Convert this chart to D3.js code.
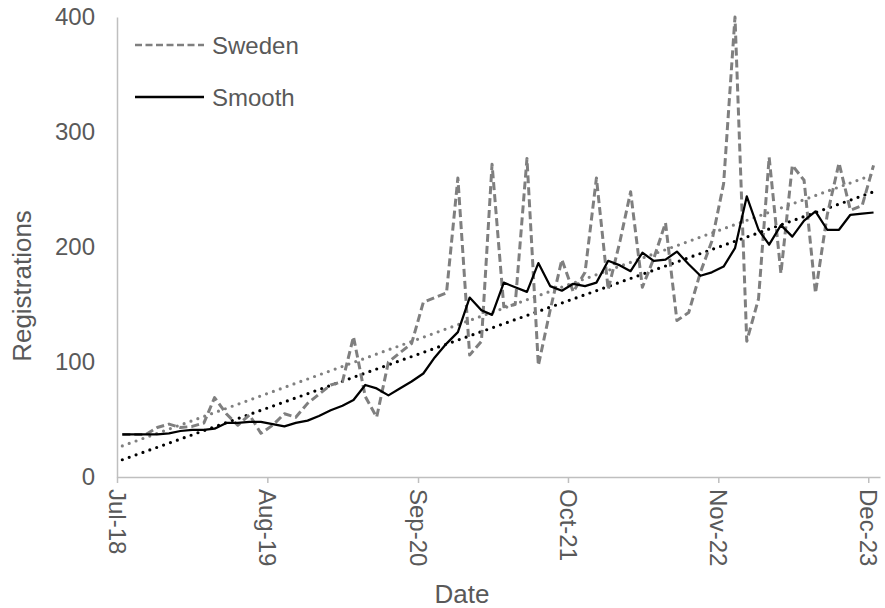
<!DOCTYPE html>
<html lang="en">
<head>
<meta charset="UTF-8">
<title>Registrations - Sweden</title>
<style>
    body { margin: 0; background: #fff; }
    svg text { font-family: "Liberation Sans", Arial, sans-serif; fill: #595959; }
</style>
<script src="https://d3js.org/d3.v7.min.js"></script>
</head>
<body>
<script>
// monthly registrations, Jul-18 .. Dec-23
const firstMonth = new Date(2018, 6, 1);
const sweden = [37, 37, 37, 43, 46, 43, 44, 47, 69, 55, 45, 54,
    38, 45, 55, 52, 64, 72, 80, 83, 122, 70, 52, 100,
    108, 116, 152, 156, 160, 260, 106, 118, 272, 148, 150, 277,
    97, 145, 189, 161, 178, 260, 163, 205, 248, 165, 190, 221,
    136, 143, 178, 205, 255, 400, 118, 155, 278, 177, 271, 258,
    160, 228, 273, 232, 236, 271];
const smooth = [37, 37, 37, 37, 38, 40, 41, 41, 42, 47, 47, 48,
    48, 46, 44, 47, 49, 53, 58, 62, 67, 80, 77, 71,
    77, 83, 90, 104, 116, 126, 156, 145, 141, 169, 165, 161,
    186, 166, 162, 168, 166, 169, 188, 184, 179, 195, 188, 189,
    196, 185, 175, 178, 183, 199, 244, 215, 202, 219, 209, 223,
    231, 215, 215, 228, 229, 230];
// linear trend lines (start, end)
const swedenTrend = [27, 263];
const smoothTrend = [15, 248];
const tickLabels = ["Jul-18", "Aug-19", "Sep-20", "Oct-21", "Nov-22", "Dec-23"];
const yTicks = [0, 100, 200, 300, 400];

const width = 885, height = 608;
const m = { left: 117, right: 880, top: 17, bottom: 477 };

const months = sweden.map((d, i) => d3.timeMonth.offset(firstMonth, i));
const mid = d => d3.timeDay.offset(d, 14);

const x = d3.scaleTime()
    .domain([firstMonth, d3.timeMonth.offset(firstMonth, 66)])
    .range([m.left, m.right]);
const y = d3.scaleLinear().domain([0, 400]).range([m.bottom, m.top]);

const svg = d3.select("body").append("svg")
    .attr("width", width)
    .attr("height", height);

// axes
const parseTick = d3.timeParse("%b-%y");
const xAxis = d3.axisBottom(x)
    .tickValues(tickLabels.map(parseTick))
    .tickFormat(d3.timeFormat("%b-%y"))
    .tickSize(6)
    .tickSizeOuter(0);
const gx = svg.append("g")
    .attr("transform", `translate(0,${m.bottom})`)
    .call(xAxis);
gx.select(".domain").attr("stroke", "#bfbfbf").attr("stroke-width", 1.5);
gx.selectAll(".tick line").attr("stroke", "#bfbfbf").attr("stroke-width", 1.5);
gx.selectAll(".tick text")
    .attr("font-size", 24)
    .attr("fill", "#595959")
    .attr("text-anchor", "start")
    .attr("dy", null)
    .attr("dominant-baseline", "central")
    .attr("transform", "translate(0,12) rotate(90)")
    .attr("x", 0).attr("y", 0);

const yAxis = d3.axisLeft(y).tickValues(yTicks).tickSize(0).tickPadding(22);
const gy = svg.append("g")
    .attr("transform", `translate(${m.left},0)`)
    .call(yAxis);
gy.select(".domain").attr("stroke", "#bfbfbf").attr("stroke-width", 1.5);
gy.selectAll(".tick text").attr("font-size", 24).attr("fill", "#595959");

// axis titles
svg.append("text")
    .attr("x", 462).attr("y", 603)
    .attr("text-anchor", "middle")
    .attr("font-size", 26)
    .text("Date");
svg.append("text")
    .attr("transform", `translate(31,286) rotate(-90)`)
    .attr("text-anchor", "middle")
    .attr("font-size", 26)
    .text("Registrations");

const line = d3.line()
    .x(d => x(mid(d.date)))
    .y(d => y(d.value));

const swedenData = months.map((d, i) => ({ date: d, value: sweden[i] }));
const smoothData = months.map((d, i) => ({ date: d, value: smooth[i] }));
const last = months[months.length - 1];

// trend lines
svg.append("path")
    .datum([{ date: months[0], value: swedenTrend[0] }, { date: last, value: swedenTrend[1] }])
    .attr("d", line)
    .attr("fill", "none")
    .attr("stroke", "#808080")
    .attr("stroke-width", 3.2)
    .attr("stroke-linecap", "round")
    .attr("stroke-dasharray", "0,7.3");
svg.append("path")
    .datum([{ date: months[0], value: smoothTrend[0] }, { date: last, value: smoothTrend[1] }])
    .attr("d", line)
    .attr("fill", "none")
    .attr("stroke", "#000")
    .attr("stroke-width", 3.2)
    .attr("stroke-linecap", "round")
    .attr("stroke-dasharray", "0,7.3");

svg.append("path")
    .datum(swedenData)
    .attr("d", line)
    .attr("fill", "none")
    .attr("stroke", "#7f7f7f")
    .attr("stroke-width", 3)
    .attr("stroke-dasharray", "8,4")
    .attr("stroke-linejoin", "round");

svg.append("path")
    .datum(smoothData)
    .attr("d", line)
    .attr("fill", "none")
    .attr("stroke", "#000")
    .attr("stroke-width", 2.25)
    .attr("stroke-linejoin", "round");

// legend
const legend = [
    { name: "Sweden", color: "#7f7f7f", dash: "7,3.5", w: 2.5, y: 45 },
    { name: "Smooth", color: "#000", dash: null, w: 2.5, y: 97 }
];
const lg = svg.append("g").selectAll("g").data(legend).join("g")
    .attr("transform", d => `translate(0,${d.y})`);
lg.append("line")
    .attr("x1", 135).attr("x2", 204)
    .attr("stroke", d => d.color)
    .attr("stroke-width", d => d.w)
    .attr("stroke-dasharray", d => d.dash);
lg.append("text")
    .attr("x", 212)
    .attr("dominant-baseline", "central")
    .attr("font-size", 24)
    .text(d => d.name);
</script>
</body>
</html>
